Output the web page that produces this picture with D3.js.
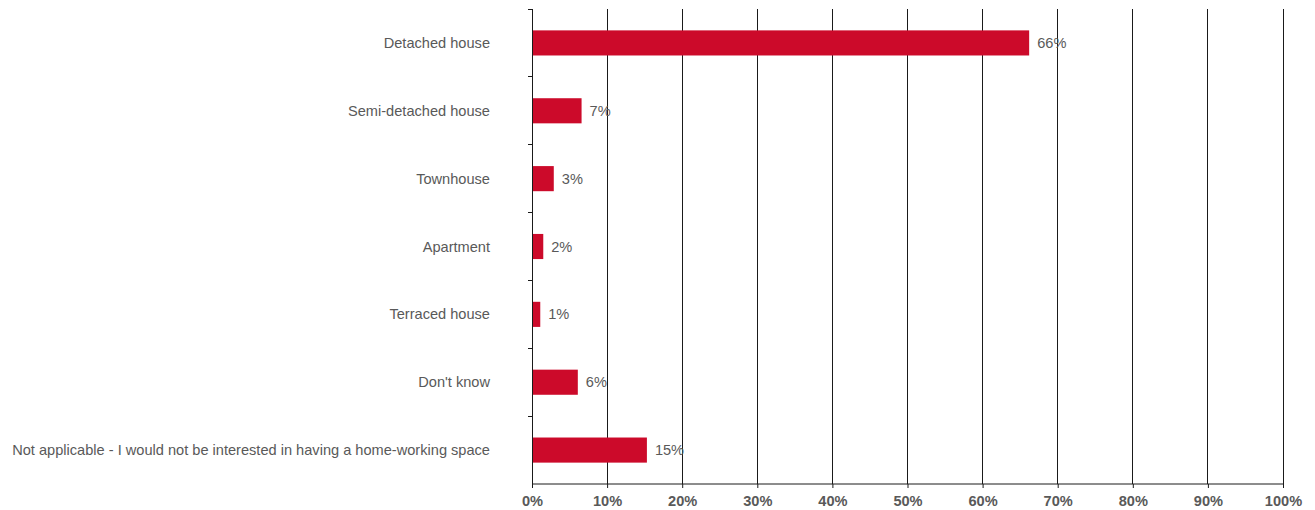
<!DOCTYPE html>
<html>
<head>
<meta charset="utf-8">
<script src="https://cdn.jsdelivr.net/npm/d3@7"></script>
<style>
  html, body { margin: 0; padding: 0; background: #fff; }
  svg { display: block; }
</style>
</head>
<body>
<svg id="chart" width="1315" height="510"></svg>
<script>
// Preferred type of home-working space, share of respondents (%)
const categories = [
  "Detached house",
  "Semi-detached house",
  "Townhouse",
  "Apartment",
  "Terraced house",
  "Don't know",
  "Not applicable - I would not be interested in having a home-working space"
];
const shares = [66.2, 6.6, 2.9, 1.5, 1.1, 6.1, 15.3];
const tickValues = [0, 10, 20, 30, 40, 50, 60, 70, 80, 90, 100];

const svg = d3.select("#chart");
const margin = { top: 9, right: 32, bottom: 26, left: 532 };
const width = 1315 - margin.left - margin.right;
const height = 510 - margin.top - margin.bottom;

const g = svg.append("g").attr("transform", `translate(${margin.left},${margin.top})`);

const x = d3.scaleLinear().domain([0, 100]).range([0, width]);
const y = d3.scaleBand().domain(categories).range([0, height]).paddingInner(0.63).paddingOuter(0.315);

const textColor = "#595959";
const font = "'Liberation Sans', Arial, sans-serif";
const fontSize = 14.6;

// vertical gridlines
g.append("g")
  .selectAll("line")
  .data(tickValues.slice(1))
  .join("line")
  .attr("x1", d => x(d)).attr("x2", d => x(d))
  .attr("y1", 0).attr("y2", height)
  .attr("stroke", "#1a1a1a").attr("stroke-width", 1)
  .attr("shape-rendering", "crispEdges");

// bars
g.append("g")
  .selectAll("rect")
  .data(shares)
  .join("rect")
  .attr("x", x(0))
  .attr("y", (d, i) => y(categories[i]))
  .attr("width", d => x(d) - x(0))
  .attr("height", y.bandwidth())
  .attr("fill", "#cc0a2a");

// value labels
g.append("g")
  .selectAll("text")
  .data(shares)
  .join("text")
  .attr("x", d => x(d) + 8)
  .attr("y", (d, i) => y(categories[i]) + y.bandwidth() / 2)
  .attr("dy", "0.35em")
  .attr("fill", textColor)
  .attr("font-family", font)
  .attr("font-size", fontSize)
  .text(d => d3.format(".0f")(d) + "%");

// category axis with band-boundary ticks
const yAxisG = g.append("g");
yAxisG.append("line")
  .attr("x1", 0).attr("x2", 0).attr("y1", 0).attr("y2", height)
  .attr("stroke", "#1a1a1a").attr("shape-rendering", "crispEdges");
const boundaries = categories.map(c => y(c) - y.step() * y.paddingInner() / 2);
yAxisG.selectAll("line.tick")
  .data(boundaries)
  .join("line")
  .attr("class", "tick")
  .attr("x1", -4).attr("x2", 0)
  .attr("y1", d => d).attr("y2", d => d)
  .attr("stroke", "#1a1a1a").attr("shape-rendering", "crispEdges");
yAxisG.selectAll("text")
  .data(categories)
  .join("text")
  .attr("x", -42)
  .attr("y", d => y(d) + y.bandwidth() / 2)
  .attr("dy", "0.35em")
  .attr("text-anchor", "end")
  .attr("fill", textColor)
  .attr("font-family", font)
  .attr("font-size", fontSize)
  .text(d => d);

// percentage axis
const xAxis = d3.axisBottom(x)
  .tickValues(tickValues)
  .tickSize(4)
  .tickPadding(8)
  .tickFormat(d => d + "%");
const xAxisG = g.append("g")
  .attr("transform", `translate(0,${height})`)
  .call(xAxis);
xAxisG.select(".domain").attr("stroke", "#1a1a1a").attr("d", `M0,0H${width}`);
xAxisG.selectAll(".tick line").attr("stroke", "#1a1a1a");
xAxisG.selectAll("text")
  .attr("fill", textColor)
  .attr("font-family", font)
  .attr("font-size", fontSize)
  .attr("font-weight", "bold");
</script>
</body>
</html>
